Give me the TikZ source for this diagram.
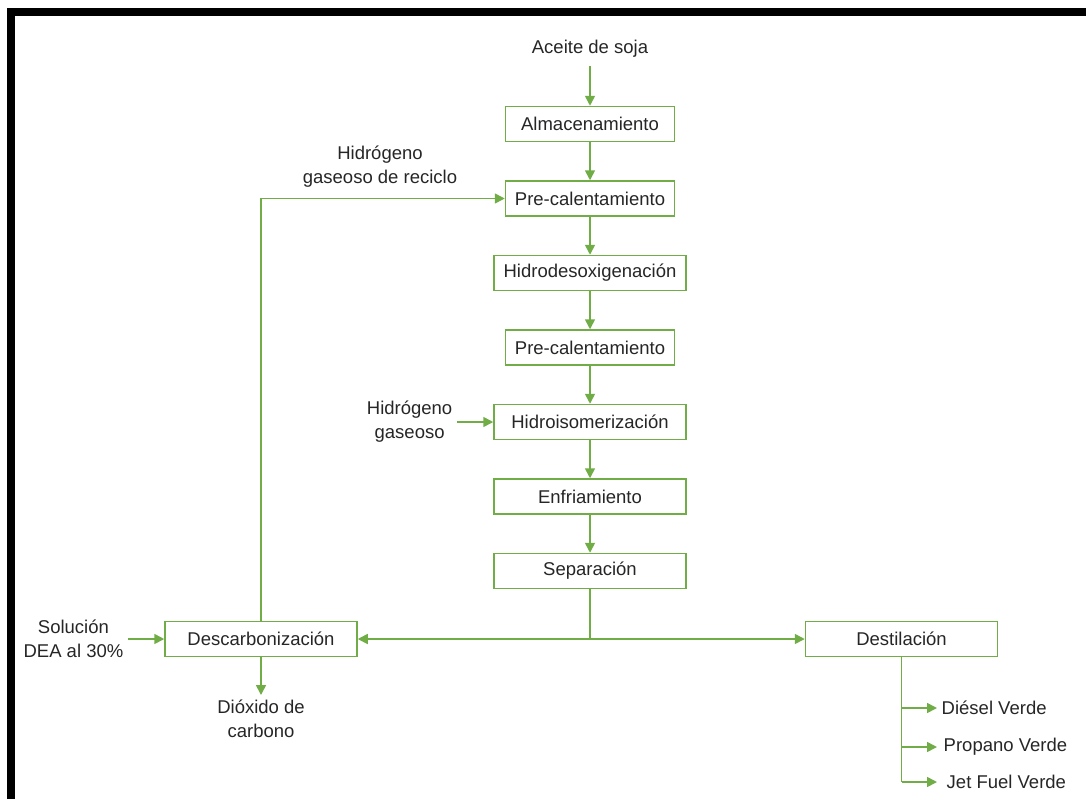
\documentclass[tikz,border=0pt]{standalone}
\usepackage{fontspec}
\setmainfont{Liberation Sans}
\usepackage{xcolor}
\usetikzlibrary{arrows.meta, positioning, calc}
\definecolor{cLine}{HTML}{70AD47}
\definecolor{cInk}{HTML}{262626}
\definecolor{cFrame}{HTML}{000000}
\newcommand{\lblfont}{\fontsize{18.5}{24}\selectfont}
\tikzset{
  proc/.style={rectangle, draw=cLine, line width=1.5pt, fill=white, text=cInk,
    font=\lblfont, inner sep=3pt, minimum height=35pt, minimum width=#1},
  proc/.default=192pt,
  lbl/.style={align=center, font=\lblfont, text=cInk, inner sep=4.5pt},
  pipe/.style={draw=cLine, line width=1.6pt},
  flow/.style={pipe, -{Triangle[length=10pt, width=10pt]}},
}

\begin{document}
\begin{tikzpicture}[x=1pt, y=-1pt, node distance=38pt and 40pt]
\useasboundingbox (0,0) rectangle (1086,798);
\draw[cFrame, line width=8pt] (11,12) rectangle (1091,812);

\node[proc=169pt] (alm) at (590,124) {Almacenamiento};
\node[proc=169pt, below=of alm] (pre1) {Pre-calentamiento};
\node[proc, below=of pre1] (hdo) {Hidrodesoxigenación};
\node[proc=169pt, below=of hdo] (pre2) {Pre-calentamiento};
\node[proc, below=of pre2] (his) {Hidroisomerización};
\node[proc, below=of his] (enf) {Enfriamiento};
\node[proc, below=of enf] (sep) {Separación};
\node[proc] (desc) at (261,639) {Descarbonización};
\node[proc] (dest) at (901.5,639) {Destilación};

\node[lbl] (soja) at (590,49) {Aceite de soja};
\draw[flow, shorten <=4pt] (soja) -- (alm);
\foreach \a/\b in {alm/pre1,pre1/hdo,hdo/pre2,pre2/his,his/enf,enf/sep}
  \draw[flow] (\a) -- (\b);

\node[lbl] (hrec) at (380,167) {Hidrógeno\\gaseoso de reciclo};
\node[lbl, anchor=east] (hgas) at (457,422) {Hidrógeno\\gaseoso};
\node[lbl, anchor=east] (dea) at (128,639) {Solución\\DEA al 30\%};
\node[lbl, anchor=north] (co2) at (261,695) {Dióxido de\\carbono};
\draw[flow] (hgas) -- (his);
\draw[flow] (dea) -- (desc);
\draw[flow] (desc) -- (co2);
\draw[flow] (desc.north) |- (pre1.west);

\coordinate (split) at (sep.south |- desc.center);
\draw[pipe] (sep.south) -- (split);
\draw[flow] (split) -- (desc);
\draw[flow] (split) -- (dest);

\node[lbl, anchor=west] (die) at (937,708) {Diésel Verde};
\node[lbl, anchor=west] (pro) at (939,747) {Propano Verde};
\node[lbl, anchor=west] (jet) at (942,782) {Jet Fuel Verde};
\draw[pipe] (dest.south) -- (dest.south |- jet.west);
\foreach \p in {die,pro,jet}
  \draw[flow] (dest.south |- \p.west) -- (\p.west -| 937,0);
\end{tikzpicture}
\end{document}
